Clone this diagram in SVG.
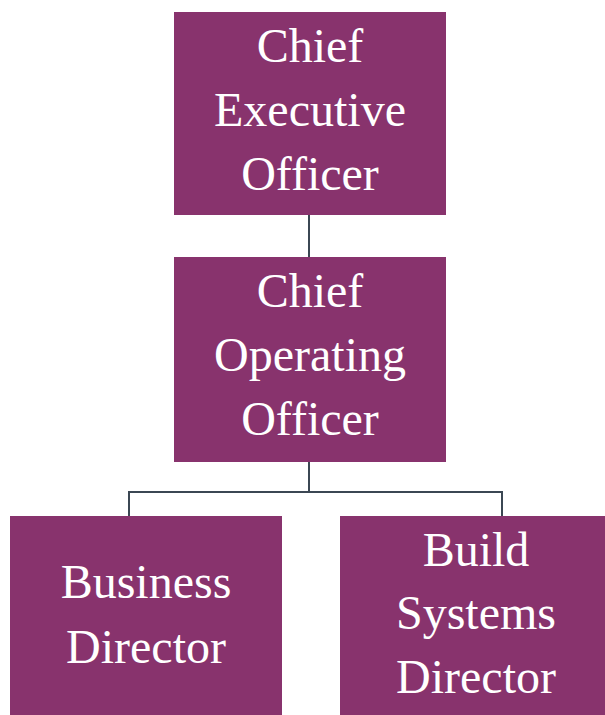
<svg xmlns="http://www.w3.org/2000/svg" width="605" height="715" viewBox="0 0 605 715">
<style>
.box{fill:#88336d;}
.t{font-family:"Liberation Serif","Times New Roman",serif;font-size:48px;fill:#ffffff;text-anchor:middle;}
.c{stroke:#3b4753;stroke-width:2;fill:none;}
</style>
<rect width="605" height="715" fill="#ffffff"/>
<g id="connectors">
<line class="c" x1="309" y1="215" x2="309" y2="257"/>
<polyline class="c" points="309,462 309,492 129,492 129,516"/>
<polyline class="c" points="309,492 502,492 502,516"/>
</g>
<g id="ceo">
<rect class="box" x="174" y="12" width="272" height="203"/>
<text class="t" x="310" y="62">Chief</text>
<text class="t" x="310" y="126">Executive</text>
<text class="t" x="310" y="190">Officer</text>
</g>
<g id="coo">
<rect class="box" x="174" y="257" width="272" height="205"/>
<text class="t" x="310" y="307">Chief</text>
<text class="t" x="310" y="371">Operating</text>
<text class="t" x="310" y="435">Officer</text>
</g>
<g id="business">
<rect class="box" x="10" y="516" width="272" height="199"/>
<text class="t" x="146" y="598">Business</text>
<text class="t" x="146" y="663">Director</text>
</g>
<g id="build">
<rect class="box" x="340" y="516" width="272" height="199"/>
<text class="t" x="476" y="566">Build</text>
<text class="t" x="476" y="629">Systems</text>
<text class="t" x="476" y="693">Director</text>
</g>
</svg>
